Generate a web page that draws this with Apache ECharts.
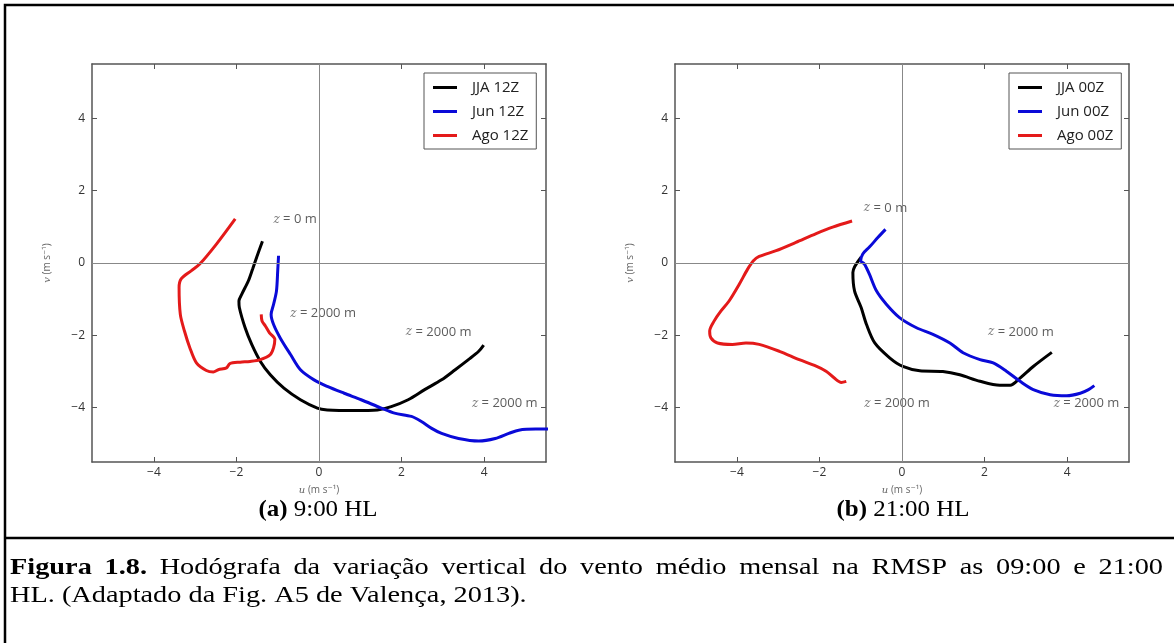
<!DOCTYPE html>
<html>
<head>
<meta charset="utf-8">
<script src="https://cdn.jsdelivr.net/npm/echarts@6/dist/echarts.min.js"></script>
<style>
html,body{margin:0;padding:0;background:#fff;}
#chart{width:1174px;height:643px;}
</style>
</head>
<body>
<div id="chart"></div>
<script>
// ---------- DATA ----------
const tickValues = [-4, -2, 0, 2, 4];
const axisRange = [-5.5, 5.5];

const seriesNamesA = ['JJA 12Z', 'Jun 12Z', 'Ago 12Z'];
const seriesNamesB = ['JJA 00Z', 'Jun 00Z', 'Ago 00Z'];

// (a) 9:00 HL  — [u, v] from z = 0 m upward to z = 2000 m
const jja12 = [[-1.37,0.60],[-1.51,0.16],[-1.61,-0.17],[-1.71,-0.49],[-1.87,-0.86],[-1.94,-1.05],[-1.93,-1.23],[-1.79,-1.79],[-1.63,-2.25],[-1.42,-2.72],[-1.18,-3.09],[-0.85,-3.46],[-0.45,-3.78],[-0.04,-4.01],[0.20,-4.06],[0.85,-4.08],[1.42,-4.06],[1.75,-3.97],[2.16,-3.78],[2.56,-3.50],[2.97,-3.23],[3.30,-2.95],[3.62,-2.67],[3.87,-2.44],[3.99,-2.27]];
const jun12 = [[-0.98,0.20],[-1.00,-0.21],[-1.03,-0.77],[-1.10,-1.14],[-1.16,-1.42],[-1.10,-1.70],[-0.94,-2.07],[-0.69,-2.53],[-0.45,-2.95],[-0.12,-3.23],[0.20,-3.41],[0.61,-3.60],[1.02,-3.78],[1.51,-4.01],[1.83,-4.15],[2.24,-4.24],[2.48,-4.38],[2.73,-4.57],[2.97,-4.71],[3.38,-4.85],[3.87,-4.92],[4.27,-4.85],[4.60,-4.71],[4.84,-4.62],[5.25,-4.59],[5.60,-4.59]];
const ago12 = [[-2.03,1.22],[-2.48,0.53],[-2.89,-0.03],[-3.09,-0.21],[-3.34,-0.44],[-3.39,-0.68],[-3.36,-1.42],[-3.26,-1.88],[-3.13,-2.34],[-2.97,-2.76],[-2.73,-2.97],[-2.56,-3.01],[-2.44,-2.95],[-2.24,-2.90],[-2.16,-2.78],[-1.91,-2.74],[-1.67,-2.72],[-1.42,-2.67],[-1.18,-2.53],[-1.10,-2.34],[-1.07,-2.11],[-1.20,-1.93],[-1.30,-1.74],[-1.38,-1.60],[-1.40,-1.42]];

// (b) 21:00 HL
const jja00 = [[-0.99,0.16],[-1.19,-0.26],[-1.15,-0.77],[-0.99,-1.23],[-0.86,-1.70],[-0.66,-2.21],[-0.30,-2.62],[0.02,-2.86],[0.43,-2.98],[0.99,-3.00],[1.40,-3.09],[1.89,-3.27],[2.37,-3.38],[2.62,-3.38],[2.86,-3.18],[3.18,-2.86],[3.63,-2.47]];
const jun00 = [[-0.40,0.93],[-0.58,0.71],[-0.79,0.44],[-0.95,0.25],[-1.00,0.06],[-0.91,-0.03],[-0.79,-0.31],[-0.62,-0.77],[-0.38,-1.14],[-0.06,-1.51],[0.35,-1.79],[0.75,-1.97],[1.16,-2.21],[1.48,-2.48],[1.89,-2.67],[2.21,-2.76],[2.53,-2.99],[2.86,-3.27],[3.18,-3.50],[3.59,-3.64],[3.99,-3.67],[4.32,-3.60],[4.52,-3.50],[4.66,-3.39]];
const ago00 = [[-1.21,1.16],[-1.68,0.99],[-2.08,0.81],[-2.57,0.57],[-3.05,0.34],[-3.46,0.18],[-3.60,0.06],[-3.74,-0.17],[-3.94,-0.58],[-4.19,-1.05],[-4.39,-1.33],[-4.55,-1.60],[-4.66,-1.88],[-4.63,-2.07],[-4.47,-2.21],[-4.11,-2.25],[-3.78,-2.21],[-3.46,-2.25],[-2.97,-2.44],[-2.49,-2.67],[-2.08,-2.85],[-1.84,-2.99],[-1.64,-3.18],[-1.47,-3.30],[-1.35,-3.27]];

// height annotations: [u, v, label]
const notesA = [[-0.58,1.20,'0 m'],[0.10,-1.40,'2000 m'],[2.90,-1.91,'2000 m'],[4.50,-3.89,'2000 m']];
const notesB = [[-0.40,1.52,'0 m'],[2.88,-1.91,'2000 m'],[-0.12,-3.89,'2000 m'],[4.47,-3.89,'2000 m']];

const panelTitles = [['(a)', ' 9:00 HL'], ['(b)', ' 21:00 HL']];
const captionBold = 'Figura 1.8.';
const captionLine1 = 'Hodógrafa da variação vertical do vento médio mensal na RMSP as 09:00 e 21:00';
const captionLine2 = 'HL. (Adaptado da Fig. A5 de Valença, 2013).';

// ---------- STYLE ----------
const colors = ['#000000', '#0a0ad8', '#e41a1a'];
const sans = '"Open Sans", "DejaVu Sans", sans-serif';
const serifFam = '"Liberation Serif", "DejaVu Serif", serif';
const boxColor = '#555';
const capSize = 24;
const capScale = 1.18;

const grids = [
  {left: 92, top: 64, width: 454, height: 398},
  {left: 675, top: 64, width: 454, height: 398}
];

function fmt(v){ return v < 0 ? '\u2212' + Math.abs(v) : String(v); }

const nameStyle = {color:'#666', fontFamily:sans, fontSize:10,
  rich:{i:{fontStyle:'italic', fontFamily:'"DejaVu Serif", serif', fontSize:10, color:'#666'}}};

function xAxisPair(gi){
  return [
    {type:'value', gridIndex:gi, position:'bottom', min:axisRange[0], max:axisRange[1],
     axisLine:{show:true, onZero:false, lineStyle:{color:boxColor, width:1.5}},
     axisTick:{show:true, inside:true, length:5, customValues:tickValues, lineStyle:{color:boxColor}},
     axisLabel:{show:true, customValues:tickValues, formatter:fmt, margin:5, color:'#333', fontFamily:sans, fontSize:12},
     splitLine:{show:false},
     name:'{i|u} (m s\u207B\u00B9)', nameLocation:'middle', nameGap:23, nameTextStyle:nameStyle},
    {type:'value', gridIndex:gi, position:'top', min:axisRange[0], max:axisRange[1],
     axisLine:{show:true, onZero:false, lineStyle:{color:boxColor, width:1.5}},
     axisTick:{show:true, inside:true, length:5, customValues:tickValues, lineStyle:{color:boxColor}},
     axisLabel:{show:false}, splitLine:{show:false}}
  ];
}
function yAxisPair(gi){
  return [
    {type:'value', gridIndex:gi, position:'left', min:axisRange[0], max:axisRange[1],
     axisLine:{show:true, onZero:false, lineStyle:{color:boxColor, width:1.5}},
     axisTick:{show:true, inside:true, length:5, customValues:tickValues, lineStyle:{color:boxColor}},
     axisLabel:{show:true, customValues:tickValues, formatter:fmt, margin:7, color:'#333', fontFamily:sans, fontSize:12},
     splitLine:{show:false},
     name:'{i|v} (m s\u207B\u00B9)', nameLocation:'middle', nameGap:40, nameRotate:90, nameTextStyle:nameStyle},
    {type:'value', gridIndex:gi, position:'right', min:axisRange[0], max:axisRange[1],
     axisLine:{show:true, onZero:false, lineStyle:{color:boxColor, width:1.5}},
     axisTick:{show:true, inside:true, length:5, customValues:tickValues, lineStyle:{color:boxColor}},
     axisLabel:{show:false}, splitLine:{show:false}}
  ];
}

function lineSeries(name, data, color, gi){
  return {
    type:'line', name:name, data:data, xAxisIndex:gi*2, yAxisIndex:gi*2,
    showSymbol:false, symbol:'none', smooth:0.3, clip:true,
    lineStyle:{color:color, width:3}, itemStyle:{color:color}, z:3, silent:true
  };
}
function zeroLines(gi){
  return {
    type:'line', data:[], xAxisIndex:gi*2, yAxisIndex:gi*2, silent:true,
    markLine:{silent:true, symbol:'none', label:{show:false},
      lineStyle:{color:'#888', width:1, type:'solid'},
      data:[{xAxis:0},{yAxis:0}]}, z:1
  };
}
function noteSeries(notes, gi){
  return {
    type:'scatter', xAxisIndex:gi*2, yAxisIndex:gi*2, symbolSize:0, silent:true, z:4,
    data: notes.map(n => ({value:[n[0], n[1]], name:n[2]})),
    label:{show:true, position:'inside', formatter: p => '{i|z} = ' + p.name,
      color:'#333', fontFamily:sans, fontSize:13,
      rich:{i:{fontStyle:'italic', fontFamily:'"DejaVu Serif", serif', fontSize:12, color:'#555'}}}
  };
}
function legendFor(names, left){
  return {
    data:names, orient:'vertical', left:left, top:73,
    icon:'rect', itemWidth:24, itemHeight:3, itemGap:9,
    padding:[7, 8, 6, 9], borderColor:'#555', borderWidth:1, borderRadius:0,
    backgroundColor:'#fff', selectedMode:false,
    textStyle:{fontFamily:sans, fontSize:15, color:'#222', padding:[0,0,0,10], lineHeight:15}
  };
}

// panel titles (a)/(b)
function panelTitle(t, cx){
  return {type:'text', silent:true, x:cx, y:498, scaleX:1.04,
    style:{text:'{b|' + t[0] + '}{n|' + t[1] + '}', x:0, y:0, align:'center',
      fontSize:capSize, fontFamily:serifFam, fill:'#000',
      rich:{b:{fontWeight:'bold', fontSize:capSize, fontFamily:serifFam, fill:'#000'},
            n:{fontSize:capSize, fontFamily:serifFam, fill:'#000'}}}};
}

// justified first caption line
function captionLine1Elements(){
  const ctx = document.createElement('canvas').getContext('2d');
  const words = [];
  captionBold.split(' ').forEach(w => words.push({w:w, bold:true}));
  captionLine1.split(' ').forEach(w => words.push({w:w, bold:false}));
  let total = 0;
  words.forEach(o => {
    ctx.font = (o.bold ? 'bold ' : '') + capSize + 'px ' + serifFam;
    o.width = ctx.measureText(o.w).width * capScale;
    total += o.width;
  });
  const x0 = 10, x1 = 1163;
  const gap = (x1 - x0 - total) / (words.length - 1);
  let x = x0;
  return words.map(o => {
    const el = {type:'text', silent:true, x:x, y:556, scaleX:capScale,
      style:{text:o.w, x:0, y:0, fontSize:capSize, fontFamily:serifFam,
        fontWeight:o.bold ? 'bold' : 'normal', fill:'#000'}};
    x += o.width + gap;
    return el;
  });
}

const option = {
  animation:false,
  backgroundColor:'#fff',
  grid: grids,
  xAxis: [...xAxisPair(0), ...xAxisPair(1)],
  yAxis: [...yAxisPair(0), ...yAxisPair(1)],
  legend: [legendFor(seriesNamesA, 424), legendFor(seriesNamesB, 1009)],
  series: [
    zeroLines(0), zeroLines(1),
    lineSeries(seriesNamesA[0], jja12, colors[0], 0),
    lineSeries(seriesNamesA[1], jun12, colors[1], 0),
    lineSeries(seriesNamesA[2], ago12, colors[2], 0),
    lineSeries(seriesNamesB[0], jja00, colors[0], 1),
    lineSeries(seriesNamesB[1], jun00, colors[1], 1),
    lineSeries(seriesNamesB[2], ago00, colors[2], 1),
    noteSeries(notesA, 0), noteSeries(notesB, 1)
  ],
  graphic: [
    {type:'rect', silent:true, z:0, shape:{x:5, y:5, width:1200, height:700}, style:{fill:'none', stroke:'#000', lineWidth:2.5}},
    {type:'line', silent:true, z:0, shape:{x1:5, y1:538, x2:1174, y2:538}, style:{stroke:'#000', lineWidth:2.5}},
    panelTitle(panelTitles[0], 318),
    panelTitle(panelTitles[1], 903),
    ...captionLine1Elements(),
    {type:'text', silent:true, x:10, y:584, scaleX:capScale,
     style:{text:captionLine2, x:0, y:0, fontSize:capSize, fontFamily:serifFam, fill:'#000'}}
  ]
};

const chart = echarts.init(document.getElementById('chart'), null, {renderer:'canvas'});
chart.setOption(option);
</script>
</body>
</html>
